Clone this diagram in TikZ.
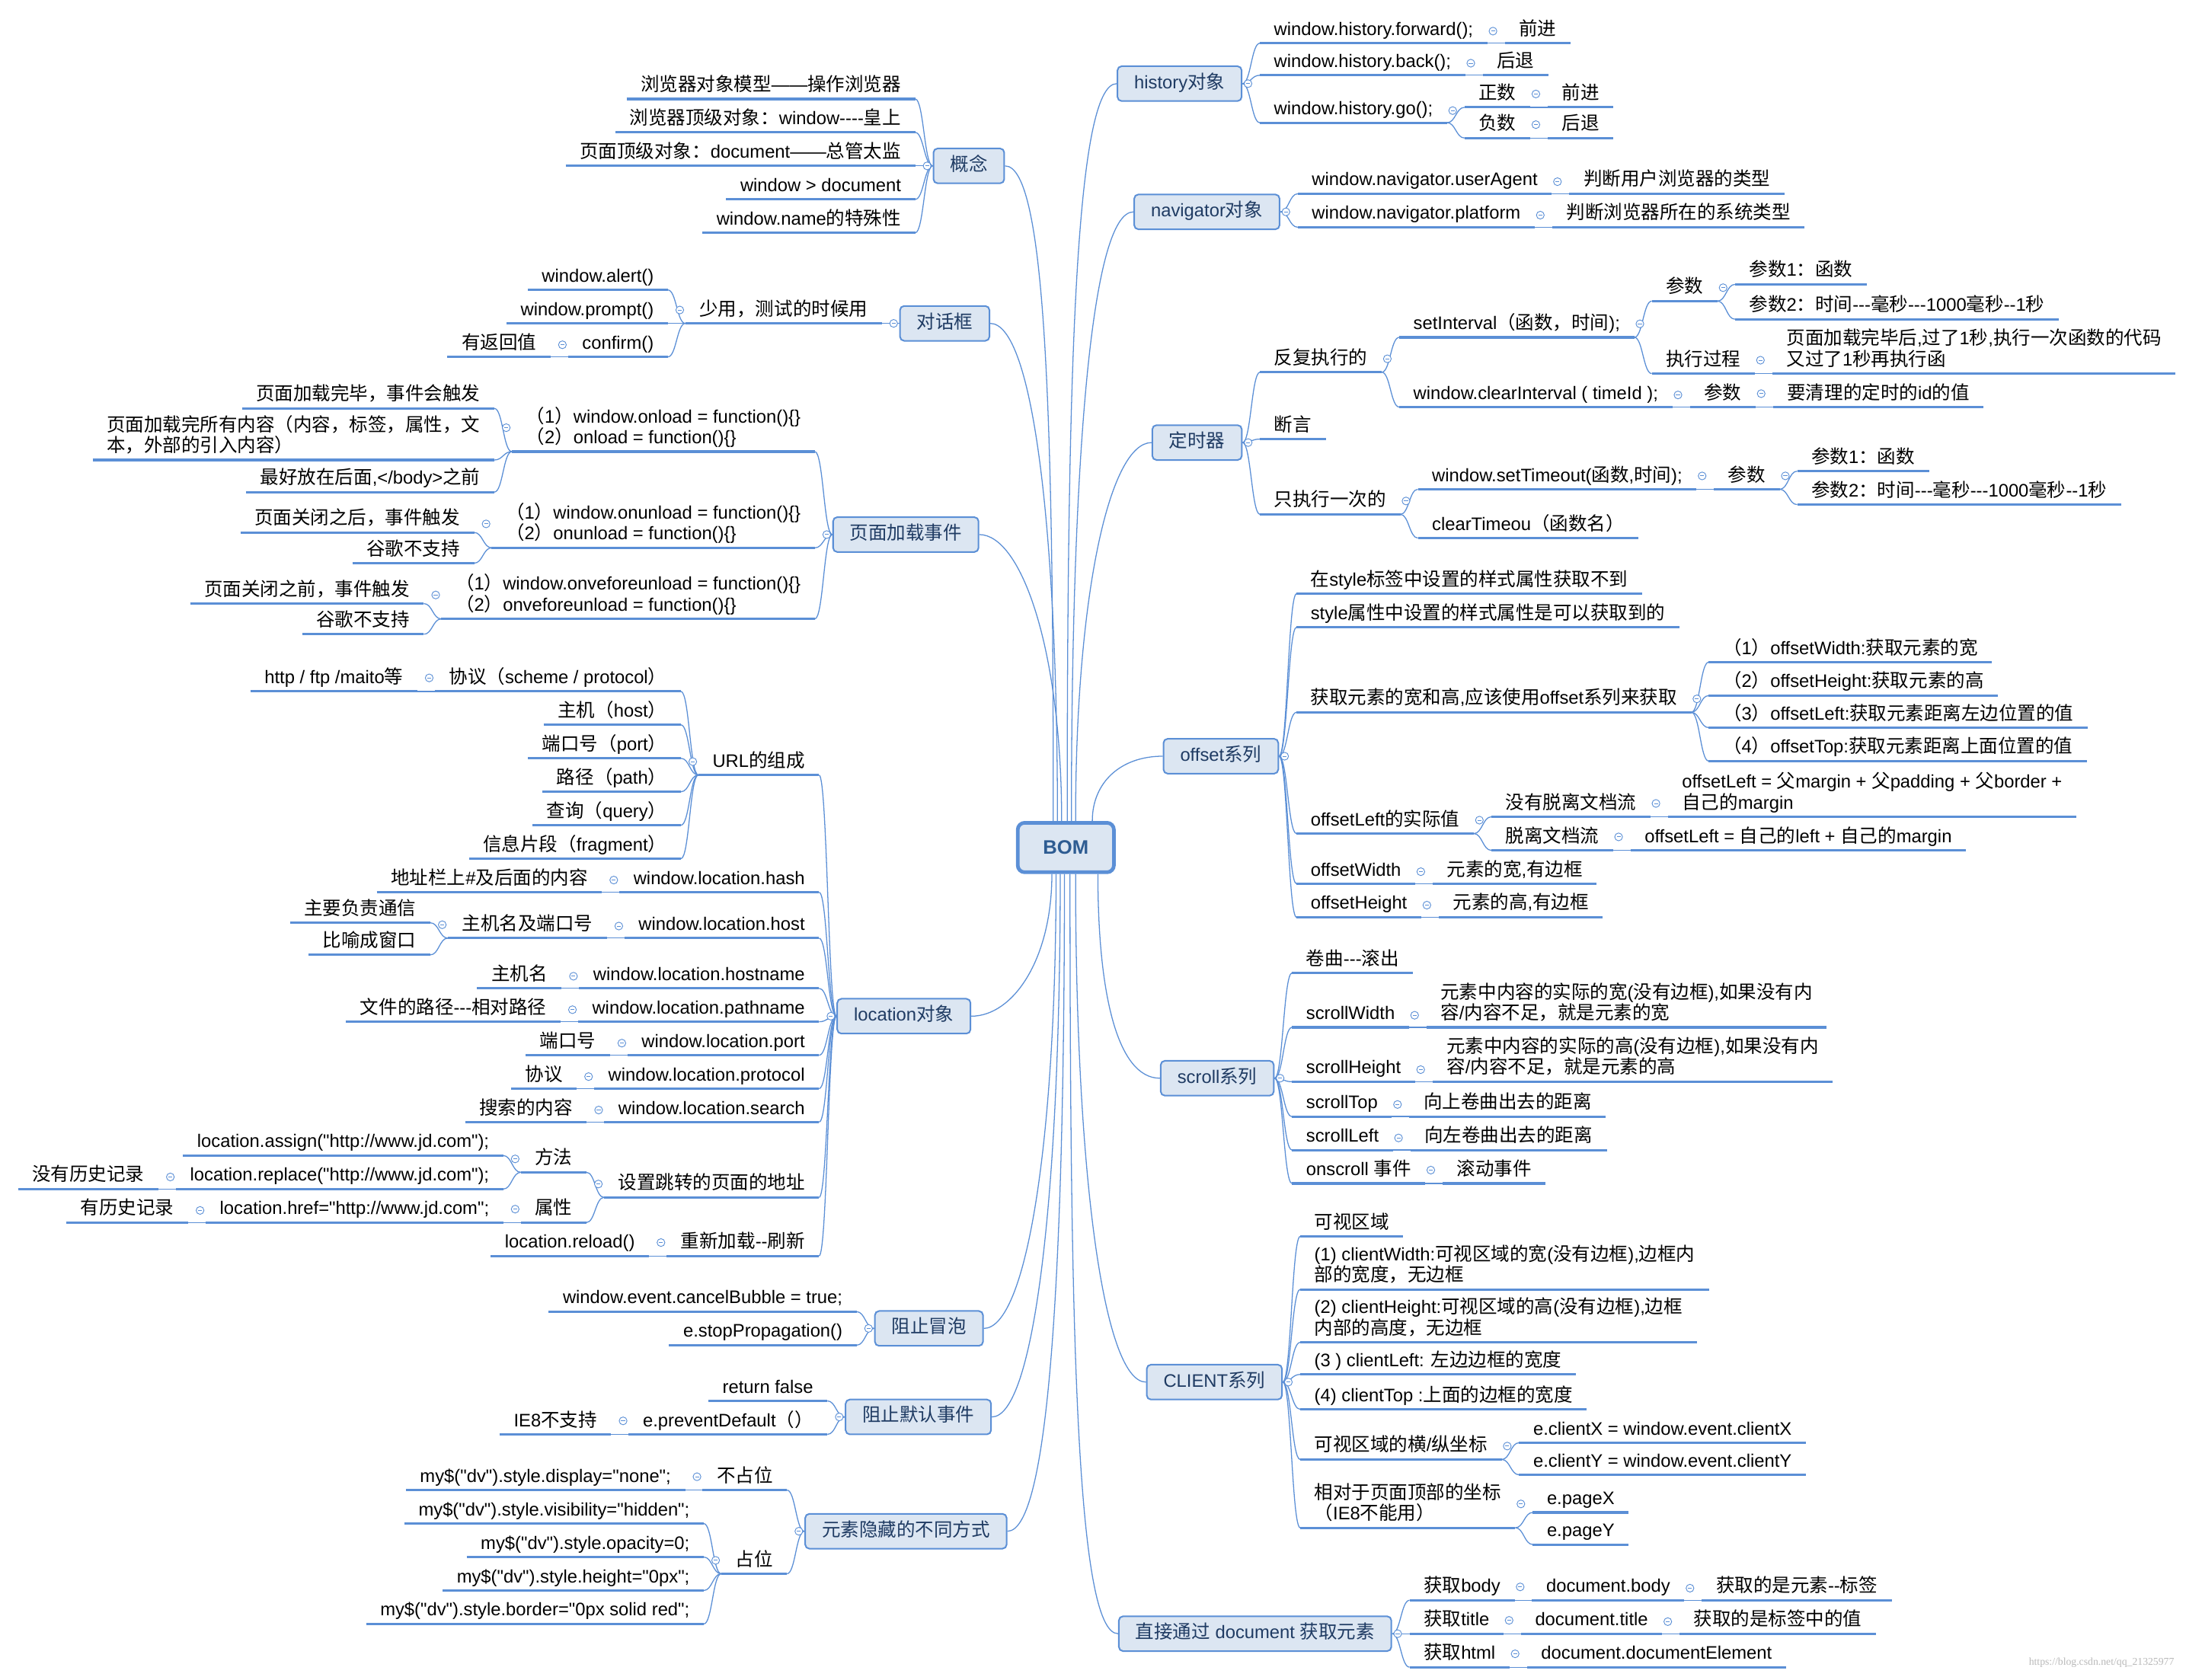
\documentclass[tikz,border=0pt]{standalone}
\usepackage{fontspec}
\newfontfamily\latinfont{Liberation Sans}
\newfontfamily\cjkfont{Noto Sans CJK SC}[Scale=1.03]
\newfontfamily\rootfont{Liberation Sans}
\newfontfamily\markfont{Liberation Serif}
\usetikzlibrary{calc}

% Chinese characters switch to the CJK face by themselves
\newXeTeXintercharclass\cjkclass
\def\setcjk#1#2{\count255=#1 \loop \XeTeXcharclass\count255=\cjkclass
  \ifnum\count255<#2 \advance\count255 by 1 \repeat}
\setcjk{"3000}{"303F}
\setcjk{"4E00}{"9FFF}
\setcjk{"FF00}{"FFEF}
\XeTeXinterchartoks 0 \cjkclass = {\cjkfont}
\XeTeXinterchartoks 4095 \cjkclass = {\cjkfont}
\XeTeXinterchartoks \cjkclass 0 = {\latinfont}
\XeTeXinterchartoks \cjkclass 4095 = {\latinfont}

\begin{document}
\XeTeXinterchartokenstate=1
\begin{tikzpicture}[x=1pt, y=-1pt,
    topic/.style={font={\latinfont\fontsize{13}{15}\selectfont}, inner xsep=10pt, inner ysep=2pt,
      text depth=3.5pt, align=left,
      append after command={(\tikzlastnode.south west) edge[uline] (\tikzlastnode.south east)}},
    topicR/.style={topic, anchor=south west},
    topicL/.style={topic, anchor=south east},
    uline/.style={draw=lineBlue, line width=1.7pt},
    ulink/.style={draw=lineBlue, line width=0.7pt},
    branchbox/.style={draw=lineBlue, fill=boxFill, line width=1.1pt, rounded corners=3pt,
      text=boxText, font={\latinfont\fontsize{13}{15}\selectfont}, inner xsep=12pt,
      text height=10pt, text depth=3pt, minimum height=25pt, anchor=west},
    rootbox/.style={draw=lineBlue, fill=boxFill, line width=2.6pt, rounded corners=5pt,
      text=rootText, font={\rootfont\bfseries\fontsize{14}{16}\selectfont},
      minimum width=69pt, minimum height=35.5pt},
    knob/.pic={\draw[lineBlue, line width=0.5pt, fill=white] (0,0) circle (2.8pt);
      \draw[lineBlue, line width=0.5pt] (-1.4pt,0) -- (1.4pt,0);}
  ]
    \definecolor{lineBlue}{HTML}{5B8FD6}
    \definecolor{boxFill}{HTML}{DCE6F2}
    \definecolor{boxText}{HTML}{1F3B63}
    \definecolor{rootText}{HTML}{2E5C92}

    % Child on the right / left of a parent, at underline height #3
    \def\kidR#1#2#3#4{\node[topicR] (#1) at ($(#2 |- 0,#3)+(12.5,0)$) {#4};}
    \def\kidL#1#2#3#4{\node[topicL] (#1) at ($(#2 |- 0,#3)+(-12.5,0)$) {#4};}
    \def\linkR#1#2{\foreach \k in {#2} {\draw[ulink] (#1) .. controls +(6,0) and +(-6,0) .. (\k.south west);}}
    \def\linkL#1#2{\foreach \k in {#2} {\draw[ulink] (#1) .. controls +(-6,0) and +(6,0) .. (\k.south east);}}
    \def\rootlink#1#2#3{\draw[ulink] (#1) .. controls ($(#1)!0.6!(#1 |- #2)$) and ([xshift=#3]#2) .. (#2);}
    \def\knobR#1{\foreach \k in {#1} {\pic at ([xshift=4pt]\k.east) {knob};}}
    \def\knobL#1{\foreach \k in {#1} {\pic at ([xshift=-4pt]\k.west) {knob};}}

    \useasboundingbox (0,0) rectangle (1568,1205);
    \fill[white] (0,0) rectangle (1568,1205);

    % Root and main branches
    \node[rootbox] (bom) at (764.5,608) {BOM};
    \node[branchbox] (gn) at (669,119) {概念};
    \node[branchbox] (dh) at (645,232) {对话框};
    \node[branchbox] (jz) at (597,383.5) {页面加载事件};
    \node[branchbox] (loc) at (600,729) {location对象};
    \node[branchbox] (mp) at (627,953) {阻止冒泡};
    \node[branchbox] (mr) at (606,1016.5) {阻止默认事件};
    \node[branchbox] (yc) at (577,1098.5) {元素隐藏的不同方式};
    \node[branchbox] (hist) at (801,60) {history对象};
    \node[branchbox] (nav) at (813,152) {navigator对象};
    \node[branchbox] (ds) at (826,317.5) {定时器};
    \node[branchbox] (os) at (834,542.5) {offset系列};
    \node[branchbox] (sc) at (832,773.5) {scroll系列};
    \node[branchbox] (cl) at (822,991.5) {CLIENT系列};
    \node[branchbox] (doc) at (802,1172) {直接通过 document 获取元素};

    % Concept
    \kidL{gn1}{gn.west}{71}{浏览器对象模型——操作浏览器}
    \kidL{gn2}{gn.west}{95}{浏览器顶级对象：window----皇上}
    \kidL{gn3}{gn.west}{119}{页面顶级对象：document——总管太监}
    \kidL{gn4}{gn.west}{143}{window > document}
    \kidL{gn5}{gn.west}{167}{window.name的特殊性}

    % Dialogs
    \kidL{sy}{dh.west}{232}{少用，测试的时候用}
    \kidL{al}{sy.south west}{208}{window.alert()}
    \kidL{pr}{sy.south west}{232}{window.prompt()}
    \kidL{cf}{sy.south west}{256}{confirm()}
    \kidL{fh}{cf.south west}{256}{有返回值}

    % Page load events
    \kidL{ol}{jz.west}{324}{（1）window.onload = function()\{\}\\（2）onload = function()\{\}}
    \kidL{ou}{jz.west}{393}{（1）window.onunload = function()\{\}\\（2）onunload = function()\{\}}
    \kidL{ob}{jz.west}{444}{（1）window.onveforeunload = function()\{\}\\（2）onveforeunload = function()\{\}}
    \kidL{ol1}{ol.south west}{293}{页面加载完毕，事件会触发}
    \kidL{ol2}{ol.south west}{330}{页面加载完所有内容（内容，标签，属性，文\\本，外部的引入内容）}
    \kidL{ol3}{ol.south west}{353}{最好放在后面,</body>之前}
    \kidL{ou1}{ou.south west}{382}{页面关闭之后，事件触发}
    \kidL{ou2}{ou.south west}{404}{谷歌不支持}
    \kidL{ob1}{ob.south west}{433}{页面关闭之前，事件触发}
    \kidL{ob2}{ob.south west}{455}{谷歌不支持}

    % Location
    \kidL{url}{loc.west}{556}{URL的组成}
    \kidL{hash}{loc.west}{640}{window.location.hash}
    \kidL{host}{loc.west}{673}{window.location.host}
    \kidL{hn}{loc.west}{709}{window.location.hostname}
    \kidL{pn}{loc.west}{733}{window.location.pathname}
    \kidL{port}{loc.west}{757}{window.location.port}
    \kidL{proto}{loc.west}{781}{window.location.protocol}
    \kidL{search}{loc.west}{805}{window.location.search}
    \kidL{jump}{loc.west}{859}{设置跳转的页面的地址}
    \kidL{reload}{loc.west}{901}{重新加载--刷新}
    \kidL{u1}{url.south west}{496}{协议（scheme / protocol）}
    \kidL{u2}{url.south west}{520}{主机（host）}
    \kidL{u3}{url.south west}{544}{端口号（port）}
    \kidL{u4}{url.south west}{568}{路径（path）}
    \kidL{u5}{url.south west}{592}{查询（query）}
    \kidL{u6}{url.south west}{616}{信息片段（fragment）}
    \kidL{u1a}{u1.south west}{496}{http / ftp /maito等}
    \kidL{hasha}{hash.south west}{640}{地址栏上\#及后面的内容}
    \kidL{hosta}{host.south west}{673}{主机名及端口号}
    \kidL{hostb}{hosta.south west}{662}{主要负责通信}
    \kidL{hostc}{hosta.south west}{685}{比喻成窗口}
    \kidL{hna}{hn.south west}{709}{主机名}
    \kidL{pna}{pn.south west}{733}{文件的路径---相对路径}
    \kidL{porta}{port.south west}{757}{端口号}
    \kidL{protoa}{proto.south west}{781}{协议}
    \kidL{searcha}{search.south west}{805}{搜索的内容}
    \kidL{jm}{jump.south west}{841}{方法}
    \kidL{jp}{jump.south west}{877}{属性}
    \kidL{jma}{jm.south west}{829}{location.assign("http://www.jd.com");}
    \kidL{jmb}{jm.south west}{853}{location.replace("http://www.jd.com");}
    \kidL{jmb1}{jmb.south west}{853}{没有历史记录}
    \kidL{jpa}{jp.south west}{877}{location.href="http://www.jd.com";}
    \kidL{jpa1}{jpa.south west}{877}{有历史记录}
    \kidL{reloada}{reload.south west}{901}{location.reload()}

    % Bubbling, default action, hiding
    \kidL{mp1}{mp.west}{941}{window.event.cancelBubble = true;}
    \kidL{mp2}{mp.west}{965}{e.stopPropagation()}
    \kidL{mr1}{mr.west}{1005}{return false}
    \kidL{mr2}{mr.west}{1029}{e.preventDefault（）}
    \kidL{mr2a}{mr2.south west}{1029}{IE8不支持}
    \kidL{yc1}{yc.west}{1069}{不占位}
    \kidL{yc2}{yc.west}{1129}{占位}
    \kidL{yc1a}{yc1.south west}{1069}{my\$("dv").style.display="none";}
    \kidL{yc2a}{yc2.south west}{1093}{my\$("dv").style.visibility="hidden";}
    \kidL{yc2b}{yc2.south west}{1117}{my\$("dv").style.opacity=0;}
    \kidL{yc2c}{yc2.south west}{1141}{my\$("dv").style.height="0px";}
    \kidL{yc2d}{yc2.south west}{1165}{my\$("dv").style.border="0px solid red";}

    % History and navigator
    \kidR{h1}{hist.east}{31}{window.history.forward();}
    \kidR{h2}{hist.east}{54}{window.history.back();}
    \kidR{h3}{hist.east}{88}{window.history.go();}
    \kidR{h1a}{h1.south east}{31}{前进}
    \kidR{h2a}{h2.south east}{54}{后退}
    \kidR{h3a}{h3.south east}{77}{正数}
    \kidR{h3b}{h3.south east}{99}{负数}
    \kidR{h3c}{h3a.south east}{77}{前进}
    \kidR{h3d}{h3b.south east}{99}{后退}
    \kidR{n1}{nav.east}{139}{window.navigator.userAgent}
    \kidR{n2}{nav.east}{163}{window.navigator.platform}
    \kidR{n1a}{n1.south east}{139}{判断用户浏览器的类型}
    \kidR{n2a}{n2.south east}{163}{判断浏览器所在的系统类型}

    % Timers
    \kidR{tm1}{ds.east}{267}{反复执行的}
    \kidR{tm2}{ds.east}{315}{断言}
    \kidR{tm3}{ds.east}{369}{只执行一次的}
    \kidR{tm1a}{tm1.south east}{242}{setInterval（函数，时间);}
    \kidR{tm1b}{tm1.south east}{292}{window.clearInterval ( timeId );}
    \kidR{tm1a1}{tm1a.south east}{216}{参数}
    \kidR{tm1a2}{tm1a.south east}{268}{执行过程}
    \kidR{tm1a1a}{tm1a1.south east}{204}{参数1：函数}
    \kidR{tm1a1b}{tm1a1.south east}{229}{参数2：时间---毫秒---1000毫秒--1秒}
    \kidR{tm1a2a}{tm1a2.south east}{268}{页面加载完毕后,过了1秒,执行一次函数的代码\\又过了1秒再执行函}
    \kidR{tm1b1}{tm1b.south east}{292}{参数}
    \kidR{tm1b1a}{tm1b1.south east}{292}{要清理的定时的id的值}
    \kidR{tm3a}{tm3.south east}{351}{window.setTimeout(函数,时间);}
    \kidR{tm3b}{tm3.south east}{386}{clearTimeou（函数名）}
    \kidR{tm3a1}{tm3a.south east}{351}{参数}
    \kidR{tm3a1a}{tm3a1.south east}{338}{参数1：函数}
    \kidR{tm3a1b}{tm3a1.south east}{362}{参数2：时间---毫秒---1000毫秒--1秒}

    % Offset
    \kidR{o1}{os.east}{426}{在style标签中设置的样式属性获取不到}
    \kidR{o2}{os.east}{450}{style属性中设置的样式属性是可以获取到的}
    \kidR{o3}{os.east}{511}{获取元素的宽和高,应该使用offset系列来获取}
    \kidR{o4}{os.east}{598}{offsetLeft的实际值}
    \kidR{o5}{os.east}{634}{offsetWidth}
    \kidR{o6}{os.east}{658}{offsetHeight}
    \kidR{o3a}{o3.south east}{475}{（1）offsetWidth:获取元素的宽}
    \kidR{o3b}{o3.south east}{499}{（2）offsetHeight:获取元素的高}
    \kidR{o3c}{o3.south east}{522}{（3）offsetLeft:获取元素距离左边位置的值}
    \kidR{o3d}{o3.south east}{546}{（4）offsetTop:获取元素距离上面位置的值}
    \kidR{o4a}{o4.south east}{586}{没有脱离文档流}
    \kidR{o4b}{o4.south east}{610}{脱离文档流}
    \kidR{o4a1}{o4a.south east}{586}{offsetLeft = 父margin + 父padding + 父border +\\自己的margin}
    \kidR{o4b1}{o4b.south east}{610}{offsetLeft = 自己的left + 自己的margin}
    \kidR{o5a}{o5.south east}{634}{元素的宽,有边框}
    \kidR{o6a}{o6.south east}{658}{元素的高,有边框}

    % Scroll
    \kidR{s1}{sc.east}{698}{卷曲---滚出}
    \kidR{s2}{sc.east}{737}{scrollWidth}
    \kidR{s3}{sc.east}{776}{scrollHeight}
    \kidR{s4}{sc.east}{801}{scrollTop}
    \kidR{s5}{sc.east}{825}{scrollLeft}
    \kidR{s6}{sc.east}{849}{onscroll 事件}
    \kidR{s2a}{s2.south east}{737}{元素中内容的实际的宽(没有边框),如果没有内\\容/内容不足，就是元素的宽}
    \kidR{s3a}{s3.south east}{776}{元素中内容的实际的高(没有边框),如果没有内\\容/内容不足，就是元素的高}
    \kidR{s4a}{s4.south east}{801}{向上卷曲出去的距离}
    \kidR{s5a}{s5.south east}{825}{向左卷曲出去的距离}
    \kidR{s6a}{s6.south east}{849}{滚动事件}

    % Client
    \kidR{c1}{cl.east}{887}{可视区域}
    \kidR{c2}{cl.east}{925}{(1) clientWidth:可视区域的宽(没有边框),边框内\\部的宽度，无边框}
    \kidR{c3}{cl.east}{963}{(2) clientHeight:可视区域的高(没有边框),边框\\内部的高度，无边框}
    \kidR{c4}{cl.east}{986}{(3 ) clientLeft: 左边边框的宽度}
    \kidR{c5}{cl.east}{1011}{(4) clientTop :上面的边框的宽度}
    \kidR{c6}{cl.east}{1047}{可视区域的横/纵坐标}
    \kidR{c7}{cl.east}{1096}{相对于页面顶部的坐标\\（IE8不能用）}
    \kidR{c6a}{c6.south east}{1035}{e.clientX = window.event.clientX}
    \kidR{c6b}{c6.south east}{1058}{e.clientY = window.event.clientY}
    \kidR{c7a}{c7.south east}{1085}{e.pageX}
    \kidR{c7b}{c7.south east}{1108}{e.pageY}

    % Document
    \kidR{d1}{doc.east}{1148}{获取body}
    \kidR{d2}{doc.east}{1172}{获取title}
    \kidR{d3}{doc.east}{1196}{获取html}
    \kidR{d1a}{d1.south east}{1148}{document.body}
    \kidR{d1b}{d1a.south east}{1148}{获取的是元素--标签}
    \kidR{d2a}{d2.south east}{1172}{document.title}
    \kidR{d2b}{d2a.south east}{1172}{获取的是标签中的值}
    \kidR{d3a}{d3.south east}{1196}{document.documentElement}

    % Connect root to branches
    \foreach \n/\s in {rt1/-9,rt2/-6,rt3/-3,rt4/1,rt5/4,rt6/7,rt7/19}
        \coordinate (\n) at ([xshift=\s pt]bom.north);
    \foreach \n/\s in {rb1/-10,rb2/-7,rb3/-4,rb4/-1,rb5/3,rb6/7,rb7/23}
        \coordinate (\n) at ([xshift=\s pt]bom.south);
    \rootlink{rt1}{gn.east}{30pt}
    \rootlink{rt2}{dh.east}{30pt}
    \rootlink{rt3}{jz.east}{30pt}
    \rootlink{rt4}{hist.west}{-30pt}
    \rootlink{rt5}{nav.west}{-30pt}
    \rootlink{rt6}{ds.west}{-30pt}
    \rootlink{rt7}{os.west}{-30pt}
    \rootlink{rb1}{loc.east}{30pt}
    \rootlink{rb2}{mp.east}{30pt}
    \rootlink{rb3}{mr.east}{30pt}
    \rootlink{rb4}{yc.east}{30pt}
    \rootlink{rb5}{doc.west}{-30pt}
    \rootlink{rb6}{cl.west}{-30pt}
    \rootlink{rb7}{sc.west}{-30pt}

    % Connect left side
    \linkL{gn.west}{gn1,gn2,gn3,gn4,gn5}
    \linkL{dh.west}{sy}
    \linkL{sy.south west}{al,pr,cf}
    \linkL{cf.south west}{fh}
    \linkL{jz.west}{ol,ou,ob}
    \linkL{ol.south west}{ol1,ol2,ol3}
    \linkL{ou.south west}{ou1,ou2}
    \linkL{ob.south west}{ob1,ob2}
    \linkL{loc.west}{url,hash,host,hn,pn,port,proto,search,jump,reload}
    \linkL{url.south west}{u1,u2,u3,u4,u5,u6}
    \linkL{u1.south west}{u1a}
    \linkL{hash.south west}{hasha}
    \linkL{host.south west}{hosta}
    \linkL{hosta.south west}{hostb,hostc}
    \linkL{hn.south west}{hna}
    \linkL{pn.south west}{pna}
    \linkL{port.south west}{porta}
    \linkL{proto.south west}{protoa}
    \linkL{search.south west}{searcha}
    \linkL{jump.south west}{jm,jp}
    \linkL{jm.south west}{jma,jmb}
    \linkL{jmb.south west}{jmb1}
    \linkL{jp.south west}{jpa}
    \linkL{jpa.south west}{jpa1}
    \linkL{reload.south west}{reloada}
    \linkL{mp.west}{mp1,mp2}
    \linkL{mr.west}{mr1,mr2}
    \linkL{mr2.south west}{mr2a}
    \linkL{yc.west}{yc1,yc2}
    \linkL{yc1.south west}{yc1a}
    \linkL{yc2.south west}{yc2a,yc2b,yc2c,yc2d}

    % Connect right side
    \linkR{hist.east}{h1,h2,h3}
    \linkR{h1.south east}{h1a}
    \linkR{h2.south east}{h2a}
    \linkR{h3.south east}{h3a,h3b}
    \linkR{h3a.south east}{h3c}
    \linkR{h3b.south east}{h3d}
    \linkR{nav.east}{n1,n2}
    \linkR{n1.south east}{n1a}
    \linkR{n2.south east}{n2a}
    \linkR{ds.east}{tm1,tm2,tm3}
    \linkR{tm1.south east}{tm1a,tm1b}
    \linkR{tm1a.south east}{tm1a1,tm1a2}
    \linkR{tm1a1.south east}{tm1a1a,tm1a1b}
    \linkR{tm1a2.south east}{tm1a2a}
    \linkR{tm1b.south east}{tm1b1}
    \linkR{tm1b1.south east}{tm1b1a}
    \linkR{tm3.south east}{tm3a,tm3b}
    \linkR{tm3a.south east}{tm3a1}
    \linkR{tm3a1.south east}{tm3a1a,tm3a1b}
    \linkR{os.east}{o1,o2,o3,o4,o5,o6}
    \linkR{o3.south east}{o3a,o3b,o3c,o3d}
    \linkR{o4.south east}{o4a,o4b}
    \linkR{o4a.south east}{o4a1}
    \linkR{o4b.south east}{o4b1}
    \linkR{o5.south east}{o5a}
    \linkR{o6.south east}{o6a}
    \linkR{sc.east}{s1,s2,s3,s4,s5,s6}
    \linkR{s2.south east}{s2a}
    \linkR{s3.south east}{s3a}
    \linkR{s4.south east}{s4a}
    \linkR{s5.south east}{s5a}
    \linkR{s6.south east}{s6a}
    \linkR{cl.east}{c1,c2,c3,c4,c5,c6,c7}
    \linkR{c6.south east}{c6a,c6b}
    \linkR{c7.south east}{c7a,c7b}
    \linkR{doc.east}{d1,d2,d3}
    \linkR{d1.south east}{d1a}
    \linkR{d1a.south east}{d1b}
    \linkR{d2.south east}{d2a}
    \linkR{d2a.south east}{d2b}
    \linkR{d3.south east}{d3a}

    % Collapse marks
    \knobL{gn,dh,sy,cf,jz,ol,ou,ob,loc,url,u1,hash,host,hosta,hn,pn,port,proto,search,jump,jm,jmb,jp,jpa,reload,mp,mr,mr2,yc,yc1,yc2}
    \knobR{hist,h1,h2,h3,h3a,h3b,nav,n1,n2,ds,tm1,tm1a,tm1a1,tm1a2,tm1b,tm1b1,tm3,tm3a,tm3a1,os,o3,o4,o4a,o4b,o5,o6,sc,s2,s3,s4,s5,s6,cl,c6,c7,doc,d1,d1a,d2,d2a,d3}

    % Source mark
    \node[font={\markfont\fontsize{7.5}{9}\selectfont}, text=gray!55, anchor=east] (wm) at (1563,1193) {https://blog.csdn.net/qq\_21325977};

\end{tikzpicture}
\end{document}
